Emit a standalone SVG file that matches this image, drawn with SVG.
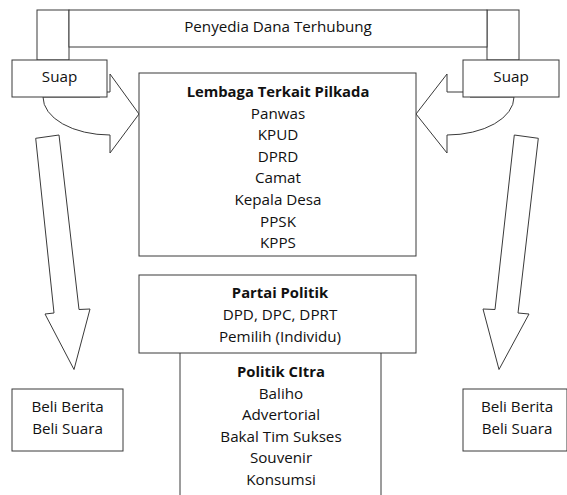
<svg xmlns="http://www.w3.org/2000/svg" width="567" height="495" viewBox="0 0 567 495">
<style>
.s{fill:#fff;stroke:#3a3a3a;stroke-width:1}
text{font-family:"Open Sans","Liberation Sans",sans-serif;font-size:15.2px;fill:#111;text-anchor:middle}
.b{font-weight:bold;font-size:14.8px}
</style>
<rect width="567" height="495" fill="#fff"/>
<g id="connectors">
<path class="s" d="M43 97 A67 38 0 0 0 110 135 L110 153 L139 114 L110 74 L110 92 L100 92 L100 97 Z"/>
<path class="s" d="M514 97 A67 38 0 0 1 447 135 L447 153 L416 114 L447 74 L447 92 L470 92 L470 97 Z"/>
<polygon class="s" points="35.7,138.3 54,313 45,314 74,369.5 90,309 79,309.5 59,135"/>
<polygon class="s" points="514.3,135 495,309.5 483,309 499,369.5 529,314 518,313 538.3,138.3"/>
</g>
<g id="penyedia">
<rect class="s" x="37" y="10" width="32" height="50"/>
<rect class="s" x="487" y="10" width="32" height="50"/>
<rect class="s" x="69" y="10" width="418" height="37"/>
<text x="278" y="32">Penyedia Dana Terhubung</text>
</g>
<g id="suap-left">
<rect class="s" x="12" y="60" width="95" height="37"/>
<text x="59.5" y="82">Suap</text>
</g>
<g id="suap-right">
<rect class="s" x="463" y="60" width="96" height="37"/>
<text x="511" y="82">Suap</text>
</g>
<g id="lembaga">
<rect class="s" x="139" y="73" width="277" height="183"/>
<text class="b" x="278" y="97">Lembaga Terkait Pilkada</text>
<text x="278" y="118.6">Panwas</text>
<text x="278" y="140.2">KPUD</text>
<text x="278" y="161.8">DPRD</text>
<text x="278" y="183.4">Camat</text>
<text x="278" y="205">Kepala Desa</text>
<text x="278" y="226.6">PPSK</text>
<text x="278" y="248.2">KPPS</text>
</g>
<g id="partai">
<rect class="s" x="139" y="275" width="277" height="78"/>
<text class="b" x="280" y="298">Partai Politik</text>
<text x="280" y="320">DPD, DPC, DPRT</text>
<text x="280" y="342">Pemilih (Individu)</text>
</g>
<g id="citra">
<path class="s" d="M180 353 V496 M381 353 V496"/>
<text class="b" x="281" y="377">Politik CItra</text>
<text x="281" y="398.6">Baliho</text>
<text x="281" y="420.2">Advertorial</text>
<text x="281" y="441.8">Bakal Tim Sukses</text>
<text x="281" y="463.4">Souvenir</text>
<text x="281" y="485">Konsumsi</text>
</g>
<g id="beli-left">
<rect class="s" x="12" y="389" width="111" height="62"/>
<text x="67.5" y="412">Beli Berita</text>
<text x="67.5" y="434">Beli Suara</text>
</g>
<g id="beli-right">
<rect class="s" x="463" y="389" width="104" height="62"/>
<text x="517" y="412">Beli Berita</text>
<text x="517" y="434">Beli Suara</text>
</g>
</svg>
